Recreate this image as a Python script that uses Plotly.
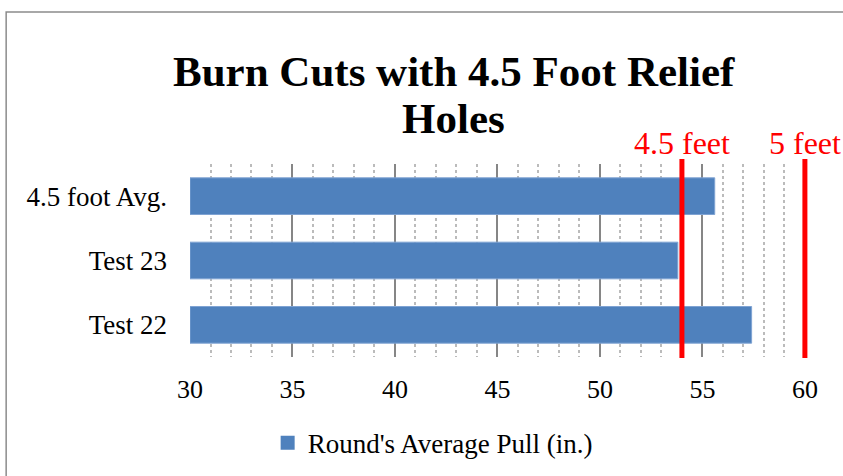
import plotly.graph_objects as go

# data
categories = ["Test 22", "Test 23", "4.5 foot Avg."]
avg_pull = [57.4, 53.8, 55.6]
axis_start = 30
ref_values = [54, 60]
ref_labels = ["4.5 feet", "5 feet"]
title_lines = ["Burn Cuts with 4.5 Foot Relief", "Holes"]
series_name = "Round's Average Pull (in.)"

SERIF = "Liberation Serif, Times New Roman, serif"
BLUE = "#4F81BD"

fig = go.Figure()
fig.add_trace(go.Bar(
    name=series_name,
    y=categories,
    x=[v - axis_start for v in avg_pull],
    base=axis_start,
    orientation="h",
    marker=dict(color=BLUE, line=dict(color="#7FA3D3", width=1)),
    showlegend=False,
))
# legend entry with a bigger square swatch
fig.add_trace(go.Scatter(
    name=series_name, x=[None], y=[None], mode="markers",
    marker=dict(symbol="square", size=14, color=BLUE),
))

for val, lab in zip(ref_values, ref_labels):
    fig.add_shape(type="line", xref="x", yref="paper", x0=val, x1=val,
                  y0=-0.005, y1=1.026, line=dict(color="#FF0000", width=5))
    fig.add_annotation(x=val, xref="x", y=1.109, yref="paper", yanchor="middle",
                       text=lab, showarrow=False,
                       font=dict(family=SERIF, size=32, color="#FF0000"))

for txt, ypos in zip(title_lines, [1.477, 1.238]):
    fig.add_annotation(x=0.426, xref="paper", y=ypos, yref="paper", yanchor="middle",
                       text="<b>%s</b>" % txt, showarrow=False,
                       font=dict(family=SERIF, size=43, color="black"))

# outer chart border
fig.add_shape(type="rect", xref="paper", yref="paper", x0=-0.297, x1=1.2,
              y0=-1.0, y1=1.787, line=dict(color="#8C8C8C", width=1.5), layer="below")

fig.update_layout(
    width=843, height=476,
    margin=dict(l=190, r=34, t=164, b=119, autoexpand=False),
    paper_bgcolor="white", plot_bgcolor="white",
    font=dict(family=SERIF, size=26, color="black"),
    bargap=0.43,
    showlegend=True,
    legend=dict(orientation="h", x=0.392, xanchor="center", y=-0.446, yanchor="middle",
                font=dict(family=SERIF, size=27, color="black"),
                itemwidth=30, tracegroupgap=0),
    xaxis=dict(range=[30, 60.2], dtick=5, tick0=30, showgrid=True,
               gridcolor="#868686", gridwidth=1.5, zeroline=False,
               showline=False, ticks="", ticklabelstandoff=14,
               minor=dict(dtick=1, showgrid=True, gridcolor="#BBBBBB",
                          griddash="dot", gridwidth=1.5)),
    yaxis=dict(showgrid=False, showline=False, ticks="", ticklabelstandoff=22,
               tickfont=dict(size=27)),
)

# drop the default page margin so the figure sits at the window's corner
fig.write_html("out.html", config={"displayModeBar": False},
               post_script="document.body.style.margin='0px';")
